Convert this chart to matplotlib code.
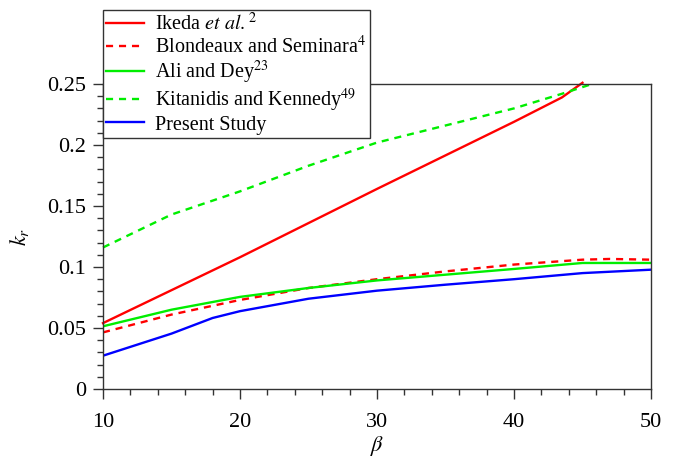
import matplotlib
matplotlib.use("Agg")
import matplotlib.pyplot as plt
from matplotlib.ticker import MultipleLocator

plt.rcParams['font.family'] = ['Liberation Serif', 'DejaVu Serif']
plt.rcParams['mathtext.fontset'] = 'stix'

# Ikeda et al. (red solid)
ikeda_x = [10, 20, 30, 40, 43.5, 45]
ikeda_y = [0.054, 0.108, 0.164, 0.219, 0.239, 0.251]

# Blondeaux and Seminara (red dashed)
blond_x = [10, 15, 20, 25, 30, 35, 40, 45, 47, 50]
blond_y = [0.0464, 0.061, 0.073, 0.0828, 0.090, 0.0964, 0.102, 0.106, 0.1066, 0.106]

# Ali and Dey (green solid)
ali_x = [10, 15, 20, 25, 30, 35, 40, 45, 50]
ali_y = [0.0514, 0.065, 0.0755, 0.0828, 0.089, 0.0937, 0.0984, 0.1033, 0.1033]

# Kitanidis and Kennedy (green dashed)
kit_x = [10, 15, 20, 25, 30, 35, 40, 43.5, 45.7]
kit_y = [0.116, 0.143, 0.162, 0.183, 0.202, 0.216, 0.230, 0.242, 0.25]

# Present study (blue)
pres_x = [10, 15, 18, 20, 25, 30, 35, 40, 45, 50]
pres_y = [0.0273, 0.0454, 0.0582, 0.0638, 0.074, 0.0806, 0.0855, 0.090, 0.095, 0.0978]

labels = [r'Ikeda $\it{et\ al.}^{2}$',
          r'Blondeaux and Seminara$^{4}$',
          r'Ali and Dey$^{23}$',
          r'Kitanidis and Kennedy$^{49}$',
          'Present Study']

fig = plt.figure(figsize=(6.74, 4.61), dpi=100)
ax = fig.add_axes([103/674, 1-389/461, (651-103)/674, (389-84)/461])

lw = 1.7
ax.plot(ikeda_x, ikeda_y, color='#ff0000', lw=lw, label=labels[0], clip_on=False)
ax.plot(blond_x, blond_y, color='#ff0000', lw=lw, ls=(0, (3, 2.5)), label=labels[1])
ax.plot(ali_x, ali_y, color='#00ee00', lw=lw, label=labels[2])
ax.plot(kit_x, kit_y, color='#00ee00', lw=lw, ls=(0, (3, 2.5)), label=labels[3], clip_on=False)
ax.plot(pres_x, pres_y, color='#0000ff', lw=lw, label=labels[4])

ax.set_xlim(10, 50)
ax.set_ylim(0, 0.25)
ax.xaxis.set_major_locator(MultipleLocator(10))
ax.xaxis.set_minor_locator(MultipleLocator(2))
ax.yaxis.set_major_locator(MultipleLocator(0.05))
ax.yaxis.set_minor_locator(MultipleLocator(0.01))
ax.set_yticks([0, 0.05, 0.1, 0.15, 0.2, 0.25])
ax.set_yticklabels(['0', '0.05', '0.1', '0.15', '0.2', '0.25'])
ax.tick_params(which='major', direction='out', length=7, width=1, labelsize=16, color='#333333')
ax.tick_params(which='minor', direction='out', length=4, width=1, color='#333333')
ax.tick_params(axis='x', which='major', pad=10)
ax.tick_params(axis='y', which='major', pad=5)
for s in ax.spines.values():
    s.set_color('#333333')
    s.set_linewidth(1)

ax.set_xlabel(r'$\beta$', fontsize=16, labelpad=2)
ax.set_ylabel(r'$k_r$', fontsize=16, labelpad=12)

leg = fig.legend(loc='upper left', bbox_to_anchor=(103/674, 1-10/461),
                 fontsize=14.5, frameon=True, fancybox=False, edgecolor='#333333',
                 framealpha=1, handlelength=1.9, handletextpad=0.55,
                 borderpad=0.15, labelspacing=0.05, borderaxespad=0)
leg.get_frame().set_linewidth(1)

fig.savefig('out.png', dpi=100)
